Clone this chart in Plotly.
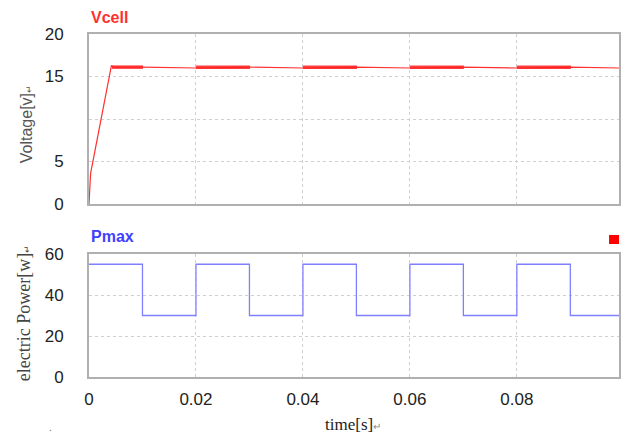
import plotly.graph_objects as go

# ---- data ----
# Vcell: main trace (ramp + steady level)
v_time = [0.0, 0.0003, 0.0042, 0.0045, 0.0100, 0.0200, 0.0300, 0.0400, 0.0500,
          0.0600, 0.0700, 0.0800, 0.0900, 0.0991]
v_volt = [0.0, 3.6, 16.3, 16.1, 16.1, 16.0, 16.1, 16.0, 16.1,
          16.0, 16.1, 16.0, 16.1, 16.0]
# ripple bands (during high Pmax intervals)
rip_start = [0.0043, 0.0200, 0.0400, 0.0600, 0.0800]
rip_end = [0.0101, 0.0301, 0.0501, 0.0701, 0.0901]
rip_level = [16.1, 16.1, 16.1, 16.1, 16.1]

# Pmax: square wave
p_time = [0.0, 0.01, 0.01, 0.02, 0.02, 0.03, 0.03, 0.04, 0.04, 0.05, 0.05,
          0.06, 0.06, 0.07, 0.07, 0.08, 0.08, 0.09, 0.09, 0.0991]
p_power = [55, 55, 30, 30, 55, 55, 30, 30, 55, 55, 30,
           30, 55, 55, 30, 30, 55, 55, 30, 30]

x_ticks = [0, 0.02, 0.04, 0.06, 0.08]
x_labels = ["0", "0.02", "0.04", "0.06", "0.08"]
v_ticks = [0, 5, 10, 15, 20]
v_labels = ["0", "5", "", "15", "20"]
p_ticks = [0, 20, 40, 60]
p_labels = ["0", "20", "40", "60"]

# ---- figure ----
fig = go.Figure()
fig.add_trace(go.Scatter(x=v_time, y=v_volt, mode="lines",
                         line=dict(color="#ff3030", width=1.2),
                         xaxis="x", yaxis="y", showlegend=False))
rx, ry = [], []
for s, e, l in zip(rip_start, rip_end, rip_level):
    rx += [s, e, None]
    ry += [l, l, None]
fig.add_trace(go.Scatter(x=rx, y=ry, mode="lines",
                         line=dict(color="rgba(255,30,30,0.85)", width=3.5),
                         xaxis="x", yaxis="y", showlegend=False))
fig.add_trace(go.Scatter(x=p_time, y=p_power, mode="lines",
                         line=dict(color="#8080ff", width=1.3),
                         xaxis="x2", yaxis="y2", showlegend=False))

tickfont = dict(family="Liberation Sans, Arial", size=17, color="#222222")
axis_common = dict(showline=True, linecolor="#b0b0b0", linewidth=2, mirror=True,
                   showgrid=True, gridcolor="#d0d0d0", griddash="dot", gridwidth=1,
                   ticks="", zeroline=False, tickfont=tickfont)

fig.update_layout(
    width=631, height=436,
    margin=dict(l=89, r=10, t=34, b=59),
    paper_bgcolor="white", plot_bgcolor="white",
    xaxis=dict(domain=[0, 1], range=[0, 0.0991], tickvals=x_ticks, ticktext=x_labels,
               showticklabels=False, anchor="y", **axis_common),
    yaxis=dict(domain=[0.5044, 1], range=[0, 20], tickvals=v_ticks, ticktext=v_labels,
               anchor="x", ticklabelstandoff=20, **axis_common),
    xaxis2=dict(domain=[0, 1], range=[0, 0.0991], tickvals=x_ticks, ticktext=x_labels,
                anchor="y2", ticklabelstandoff=6, **axis_common),
    yaxis2=dict(domain=[0, 0.3586], range=[0, 60], tickvals=p_ticks, ticktext=p_labels,
                anchor="x2", ticklabelstandoff=20, **axis_common),
    shapes=[dict(type="rect", xref="paper", yref="paper",
                 x0=(611 - 89) / 532, x1=(621 - 89) / 532,
                 y0=(377 - 244) / 343, y1=(377 - 235) / 343,
                 fillcolor="#ff0000", line=dict(width=0))],
    annotations=[
        dict(text="Vcell", xref="paper", yref="paper", x=0, y=(377 - 7) / 343,
             xanchor="left", yanchor="top", showarrow=False,
             font=dict(family="Liberation Sans, Arial", size=16, color="#ff3030", weight="bold")),
        dict(text="Pmax", xref="paper", yref="paper", x=0, y=(377 - 226) / 343,
             xanchor="left", yanchor="top", showarrow=False,
             font=dict(family="Liberation Sans, Arial", size=16, color="#4040ff", weight="bold")),
        dict(text="Voltage[v]<span style='font-size:9px'>↵</span>", xref="paper", yref="paper",
             x=-62 / 532, y=(377 - 124) / 343, textangle=-90, showarrow=False,
             xanchor="center", yanchor="middle",
             font=dict(family="Liberation Sans, Arial", size=16, color="#555555")),
        dict(text="electric Power[w]<span style='font-size:9px'>↵</span>", xref="paper", yref="paper",
             x=-65 / 532, y=(377 - 313) / 343, textangle=-90, showarrow=False,
             xanchor="center", yanchor="middle",
             font=dict(family="Liberation Serif, Times New Roman", size=18, color="#444444")),
        dict(text="time[s]<span style='font-size:10px;color:#888'>↵</span>", xref="paper", yref="paper",
             x=(354 - 89) / 532, y=(377 - 424) / 343, showarrow=False,
             xanchor="center", yanchor="middle",
             font=dict(family="Liberation Serif, Times New Roman", size=17, color="#222222")),
        dict(text=".", xref="paper", yref="paper",
             x=(50 - 89) / 532, y=(377 - 428) / 343, showarrow=False,
             xanchor="center", yanchor="middle",
             font=dict(family="Liberation Sans, Arial", size=10, color="#666666")),
    ],
)

fig.write_html("out.html", config={"displayModeBar": False},
               post_script="document.body.style.margin='0';")
